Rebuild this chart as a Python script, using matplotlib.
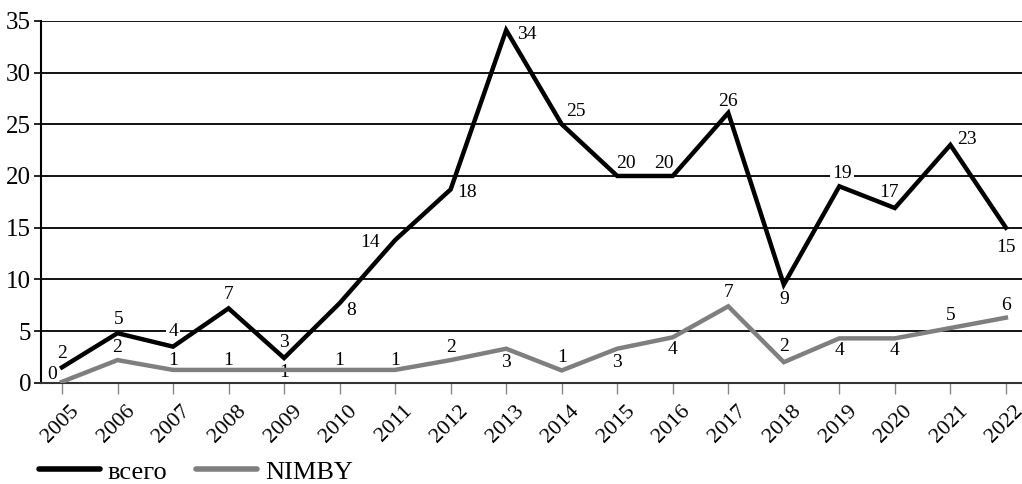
import numpy as np
import matplotlib
matplotlib.use("Agg")
import matplotlib.pyplot as plt
import matplotlib.transforms as mtransforms

plt.rcParams['font.family'] = ['Liberation Serif', 'DejaVu Serif']

# data
years = list(range(2005, 2023))
total = [1.5, 4.8, 3.5, 7.2, 2.4, 7.7, 13.8, 18.7, 34.1, 25.0, 20.0, 20.0,
         26.1, 9.5, 19.0, 16.9, 23.0, 15.0]
total_labels = ['2', '5', '4', '7', '3', '8', '14', '18', '34', '25', '20', '20',
                '26', '9', '19', '17', '23', '15']
nimby = [0.1, 2.2, 1.25, 1.25, 1.25, 1.25, 1.25, 2.2, 3.3, 1.2, 3.3, 4.4,
         7.4, 2.0, 4.3, 4.3, 5.3, 6.3]
nimby_labels = ['0', '2', '1', '1', '1', '1', '1', '2', '3', '1', '3', '4',
                '7', '2', '4', '4', '5', '6']

# label offsets (points) from each point
total_off = [(0, 10), (1, 10), (0, 11), (0, 10), (0, 11), (8, -5), (-18, -2),
             (12, -2), (15, -3), (10, 9), (6, 9), (-6, 9), (0, 8), (0, -11),
             (2, 9), (-4, 11), (12, 4), (0, -14)]
nimby_off = [(-7, 5), (0, 9), (0, 7), (0, 7), (0, -2), (0, 7), (0, 7), (0, 9),
             (0, -10), (0, 9), (0, -10), (0, -9), (0, 10), (0, 11), (0, -9),
             (0, -9), (0, 9), (0, 9)]

fig = plt.figure(figsize=(10.22, 4.84), dpi=100)
ax = fig.add_axes([0.040, 0.209, 0.960, 0.748])

l1, = ax.plot(years, total, color='black', lw=3.2, zorder=3,
              solid_joinstyle='miter', label='всего')
l2, = ax.plot(years, nimby, color='#7f7f7f', lw=3.2, zorder=3,
              solid_joinstyle='miter', label='NIMBY')

for x, y, s, o in zip(years, total, total_labels, total_off):
    ax.annotate(s, (x, y), xytext=o, textcoords='offset points',
                ha='center', va='center', fontsize=14, zorder=2,
                bbox=dict(boxstyle='square,pad=0.1', fc='white', ec='none'))
for x, y, s, o in zip(years, nimby, nimby_labels, nimby_off):
    ax.annotate(s, (x, y), xytext=o, textcoords='offset points',
                ha='center', va='center', fontsize=14, zorder=2)

ax.set_xlim(2004.62, 2022.29)
ax.set_ylim(0, 35)
ax.set_yticks(range(0, 36, 5))
ax.set_xticks(years)
ax.tick_params(axis='y', labelsize=18, length=5, width=1.2, pad=2)
ax.tick_params(axis='x', length=8, width=1.0, color='#888888', pad=4)
ax.set_xticklabels([str(y) for y in years], rotation=45, ha='right',
                   rotation_mode='anchor', fontsize=16)
# nudge the rotated year labels like in the original
shift = mtransforms.ScaledTranslation(8 / 100, -2 / 100, fig.dpi_scale_trans)
for lab in ax.get_xticklabels():
    lab.set_transform(lab.get_transform() + shift)

ax.set_axisbelow(True)
ax.yaxis.grid(True, color='black', lw=1.3)
for s in ['top', 'right']:
    ax.spines[s].set_visible(False)
ax.spines['left'].set_linewidth(1.5)
ax.spines['bottom'].set_linewidth(1.5)
ax.spines['bottom'].set_color('#333333')

leg = fig.legend(handles=[l1, l2], loc='center left',
                 bbox_to_anchor=(0.038, 0.025), ncol=2, frameon=False,
                 fontsize=19, handlelength=2.3, columnspacing=1.1,
                 handletextpad=0.3, borderaxespad=0, borderpad=0)
for h in leg.get_lines():
    h.set_linewidth(4)
    h.set_solid_capstyle('round')

fig.savefig('out.png', dpi=100)
